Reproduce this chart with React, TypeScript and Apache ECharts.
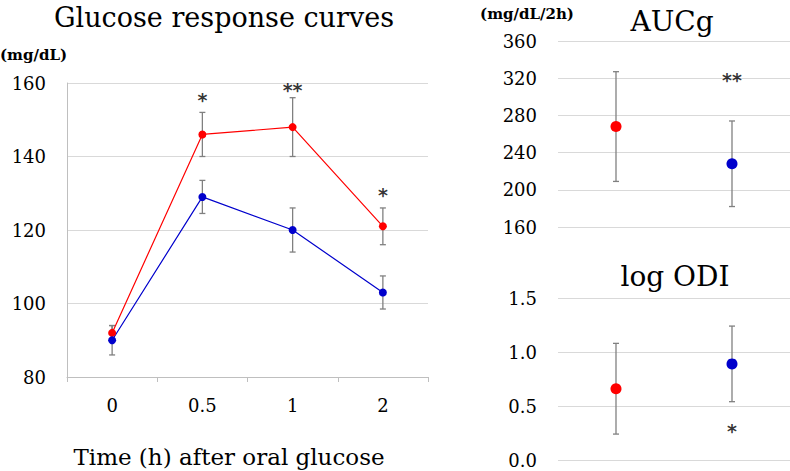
import React, { useEffect, useRef } from "react";
import * as echarts from "echarts";

const timeCats = ["0", "0.5", "1", "2"];
const redMean = [92, 146, 148, 121];
const redErr = [2, 6, 8, 5];
const blueMean = [90, 129, 120, 103];
const blueErr = [4, 4.5, 6, 4.5];
const curveSig: [string, number, string][] = [
  ["0.5", 155.5, "*"],
  ["1", 158, "**"],
  ["2", 129.5, "*"],
];

const groupCats = ["Group A", "Group B"];
const aucMean = [268, 228];
const aucErr = [59, 46];
const aucSig: [string, number, string][] = [["Group B", 318, "**"]];
const odiMean = [0.66, 0.89];
const odiErr = [0.42, 0.35];
const odiSig: [string, number, string][] = [["Group B", 0.27, "*"]];

const RED = "#ff0000";
const BLUE = "#0000cc";
const ERR = "#808080";
const FONT = "DejaVu Serif";

function errData(cats: string[], mean: number[], err: number[]) {
  return cats.map((c, i) => [i, mean[i] - err[i], mean[i] + err[i]]);
}

function errSeries(xi: number, data: number[][]) {
  return {
    type: "custom",
    xAxisIndex: xi,
    yAxisIndex: xi,
    z: 1,
    silent: true,
    data,
    renderItem: (params: any, api: any) => {
      const lo = api.coord([api.value(0), api.value(1)]);
      const hi = api.coord([api.value(0), api.value(2)]);
      const w = 3;
      const st = { stroke: ERR, lineWidth: 1.3 };
      return {
        type: "group",
        children: [
          { type: "line", shape: { x1: lo[0], y1: lo[1], x2: hi[0], y2: hi[1] }, style: st },
          { type: "line", shape: { x1: lo[0] - w, y1: lo[1], x2: lo[0] + w, y2: lo[1] }, style: st },
          { type: "line", shape: { x1: hi[0] - w, y1: hi[1], x2: hi[0] + w, y2: hi[1] }, style: st },
        ],
      };
    },
  };
}

function sigSeries(xi: number, data: [string, number, string][]) {
  return {
    type: "scatter",
    xAxisIndex: xi,
    yAxisIndex: xi,
    symbolSize: 0,
    silent: true,
    data: data.map((d) => ({ value: [d[0], d[1]], name: d[2] })),
    label: {
      show: true,
      position: "inside",
      formatter: (p: any) => p.name,
      fontFamily: "DejaVu Sans",
      fontWeight: "bold",
      fontSize: 19,
      color: "#000",
    },
  };
}

const gridLine = { show: true, lineStyle: { color: "#d9d9d9", width: 1 } };
const axisLabelStyle = { fontFamily: FONT, fontSize: 18, color: "#000" };

export default function App() {
  const ref = useRef<HTMLDivElement>(null);
  useEffect(() => {
    if (!ref.current) return;
    const chart = echarts.init(ref.current, null, { renderer: "svg" });
    chart.setOption({
      animation: false,
      grid: [
        { left: 67, right: 362, top: 83, bottom: 94 },
        { left: 558, right: 0, top: 41, height: 186 },
        { left: 558, right: 0, top: 298, bottom: 11 },
      ],
      xAxis: [
        {
          type: "category",
          gridIndex: 0,
          data: timeCats,
          boundaryGap: true,
          axisLine: { show: true, lineStyle: { color: "#bfbfbf" } },
          axisTick: { show: true, length: 5, lineStyle: { color: "#bfbfbf" } },
          axisLabel: { ...axisLabelStyle, margin: 19 },
        },
        {
          type: "category",
          gridIndex: 1,
          data: groupCats,
          axisLine: { show: false },
          axisTick: { show: false },
          axisLabel: { show: false },
        },
        {
          type: "category",
          gridIndex: 2,
          data: groupCats,
          axisLine: { show: false },
          axisTick: { show: false },
          axisLabel: { show: false },
        },
      ],
      yAxis: [
        {
          type: "value",
          gridIndex: 0,
          min: 80,
          max: 160,
          interval: 20,
          axisLine: { show: true, lineStyle: { color: "#bfbfbf" } },
          axisTick: { show: false },
          splitLine: gridLine,
          axisLabel: { ...axisLabelStyle, margin: 21 },
        },
        {
          type: "value",
          gridIndex: 1,
          min: 160,
          max: 360,
          interval: 40,
          axisLine: { show: false },
          axisTick: { show: false },
          splitLine: gridLine,
          axisLabel: { ...axisLabelStyle, margin: 21 },
        },
        {
          type: "value",
          gridIndex: 2,
          min: 0,
          max: 1.5,
          interval: 0.5,
          axisLine: { show: false },
          axisTick: { show: false },
          splitLine: gridLine,
          axisLabel: { ...axisLabelStyle, margin: 21, formatter: (v: number) => v.toFixed(1) },
        },
      ],
      series: [
        errSeries(0, errData(timeCats, redMean, redErr)),
        errSeries(0, errData(timeCats, blueMean, blueErr)),
        {
          type: "line",
          xAxisIndex: 0,
          yAxisIndex: 0,
          data: redMean,
          z: 3,
          symbol: "circle",
          symbolSize: 8,
          itemStyle: { color: RED },
          lineStyle: { color: RED, width: 1.2 },
        },
        {
          type: "line",
          xAxisIndex: 0,
          yAxisIndex: 0,
          data: blueMean,
          z: 3,
          symbol: "circle",
          symbolSize: 8,
          itemStyle: { color: BLUE },
          lineStyle: { color: BLUE, width: 1.2 },
        },
        sigSeries(0, curveSig),
        errSeries(1, errData(groupCats, aucMean, aucErr)),
        {
          type: "scatter",
          xAxisIndex: 1,
          yAxisIndex: 1,
          z: 3,
          symbolSize: 11,
          data: aucMean.map((v, i) => ({ value: [groupCats[i], v], itemStyle: { color: i === 0 ? RED : BLUE, opacity: 1 } })),
        },
        sigSeries(1, aucSig),
        errSeries(2, errData(groupCats, odiMean, odiErr)),
        {
          type: "scatter",
          xAxisIndex: 2,
          yAxisIndex: 2,
          z: 3,
          symbolSize: 11,
          data: odiMean.map((v, i) => ({ value: [groupCats[i], v], itemStyle: { color: i === 0 ? RED : BLUE, opacity: 1 } })),
        },
        sigSeries(2, odiSig),
      ],
      graphic: [
        { type: "text", x: 224, y: 17, style: { text: "Glucose response curves", font: `27px "${FONT}"`, fill: "#000", textAlign: "center", textVerticalAlign: "middle" } },
        { type: "text", x: 0, y: 55, style: { text: "(mg/dL)", font: `bold 15px "${FONT}"`, fill: "#000", textAlign: "left", textVerticalAlign: "middle" } },
        { type: "text", x: 229, y: 457, style: { text: "Time (h) after oral glucose", font: `23px "${FONT}"`, fill: "#000", textAlign: "center", textVerticalAlign: "middle" } },
        { type: "text", x: 672, y: 21, style: { text: "AUCg", font: `28px "${FONT}"`, fill: "#000", textAlign: "center", textVerticalAlign: "middle" } },
        { type: "text", x: 527, y: 14, style: { text: "(mg/dL/2h)", font: `bold 15px "${FONT}"`, fill: "#000", textAlign: "center", textVerticalAlign: "middle" } },
        { type: "text", x: 675, y: 276, style: { text: "log ODI", font: `28px "${FONT}"`, fill: "#000", textAlign: "center", textVerticalAlign: "middle" } },
      ],
    });
    return () => chart.dispose();
  }, []);
  return <div ref={ref} style={{ width: 790, height: 471, position: "absolute", left: 0, top: 0 }} />;
}
